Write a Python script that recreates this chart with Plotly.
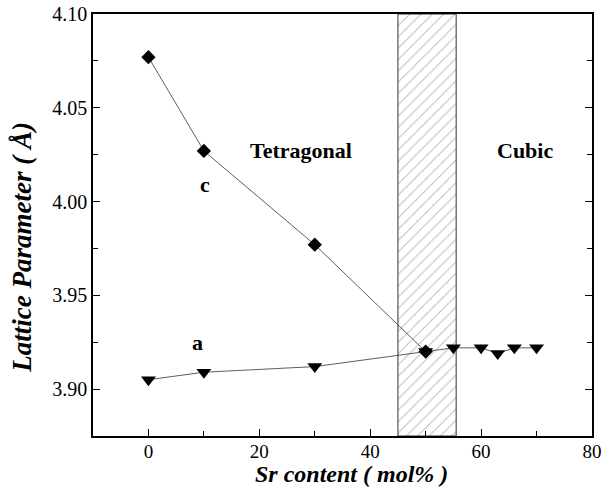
import plotly.graph_objects as go

# Sr content (mol%) and lattice parameters (Å)
sr_c = [0, 10, 30, 50]
lat_c = [4.077, 4.027, 3.977, 3.920]

sr_a = [0, 10, 30, 50, 55, 60, 63, 66, 70]
lat_a = [3.905, 3.909, 3.912, 3.920, 3.922, 3.922, 3.919, 3.922, 3.922]

# two-phase region boundaries
phase_lo, phase_hi = 45, 55.5
y_lo, y_hi = 3.875, 4.10

serif = "Liberation Serif"

fig = go.Figure()

# hatched coexistence band
fig.add_trace(go.Scatter(
    x=[phase_lo, phase_hi, phase_hi, phase_lo, phase_lo],
    y=[y_lo, y_lo, y_hi, y_hi, y_lo],
    mode="lines", fill="toself",
    fillcolor="rgba(255,255,255,0)",
    fillpattern=dict(shape="/", fgcolor="#777", bgcolor="white", size=8, solidity=0.12),
    line=dict(color="#333", width=1),
    hoverinfo="skip", showlegend=False,
))

fig.add_trace(go.Scatter(
    x=sr_a, y=lat_a, mode="lines+markers",
    line=dict(color="#333", width=0.8),
    marker=dict(symbol="triangle-down", size=13, color="black"),
    showlegend=False,
))
fig.add_trace(go.Scatter(
    x=sr_c, y=lat_c, mode="lines+markers",
    line=dict(color="#333", width=0.8),
    marker=dict(symbol="diamond", size=11, color="black"),
    showlegend=False,
))

labels = [
    (27.6, 4.027, "Tetragonal"),
    (68.0, 4.027, "Cubic"),
    (10.2, 4.009, "c"),
    (8.9, 3.925, "a"),
]
for x, y, t in labels:
    fig.add_annotation(x=x, y=y, text=f"<b>{t}</b>", showarrow=False,
                       font=dict(family=serif, size=22, color="black"))

# axis titles
fig.add_annotation(x=36.7, y=0, xref="x", yref="paper", yanchor="bottom",
                   yshift=-52, borderpad=0, showarrow=False,
                   text="<b><i>Sr content ( mol% )</i></b>",
                   font=dict(family=serif, size=24, color="black"))
fig.add_annotation(x=0, y=3.9754, xref="paper", yref="y", xanchor="center",
                   xshift=-71, textangle=-90, showarrow=False,
                   text="<b><i>Lattice Parameter ( Å)</i></b>",
                   font=dict(family=serif, size=27, color="black"))

axis_common = dict(
    showgrid=False, zeroline=False, automargin=False,
    showline=True, linecolor="black", linewidth=1.5,
    ticks="inside", ticklen=7, tickwidth=1.3, tickcolor="black",
    tickfont=dict(family=serif, size=20, color="black"),
    ticklabeloverflow="allow",
    minor=dict(ticks="inside", ticklen=5, tickwidth=1.2, tickcolor="black"),
)

fig.update_xaxes(
    range=[-10, 80], tickvals=[0, 20, 40, 60, 80],
    minor_tickvals=[-10, 10, 30, 50, 70],
    mirror=True,
    **axis_common,
)
fig.update_yaxes(
    range=[y_lo, y_hi], tickvals=[3.90, 3.95, 4.00, 4.05, 4.10],
    ticktext=["3.90", "3.95", "4.00", "4.05", "4.10"],
    minor_tickvals=[3.925, 3.975, 4.025, 4.075],
    mirror="ticks",
    **axis_common,
)
fig.update_xaxes(tickfont_size=19, ticklabelstandoff=-3)

fig.update_layout(
    width=603, height=488,
    margin=dict(l=93, r=11, t=14, b=52),
    plot_bgcolor="white", paper_bgcolor="white",
)

fig.write_html("out.html")
